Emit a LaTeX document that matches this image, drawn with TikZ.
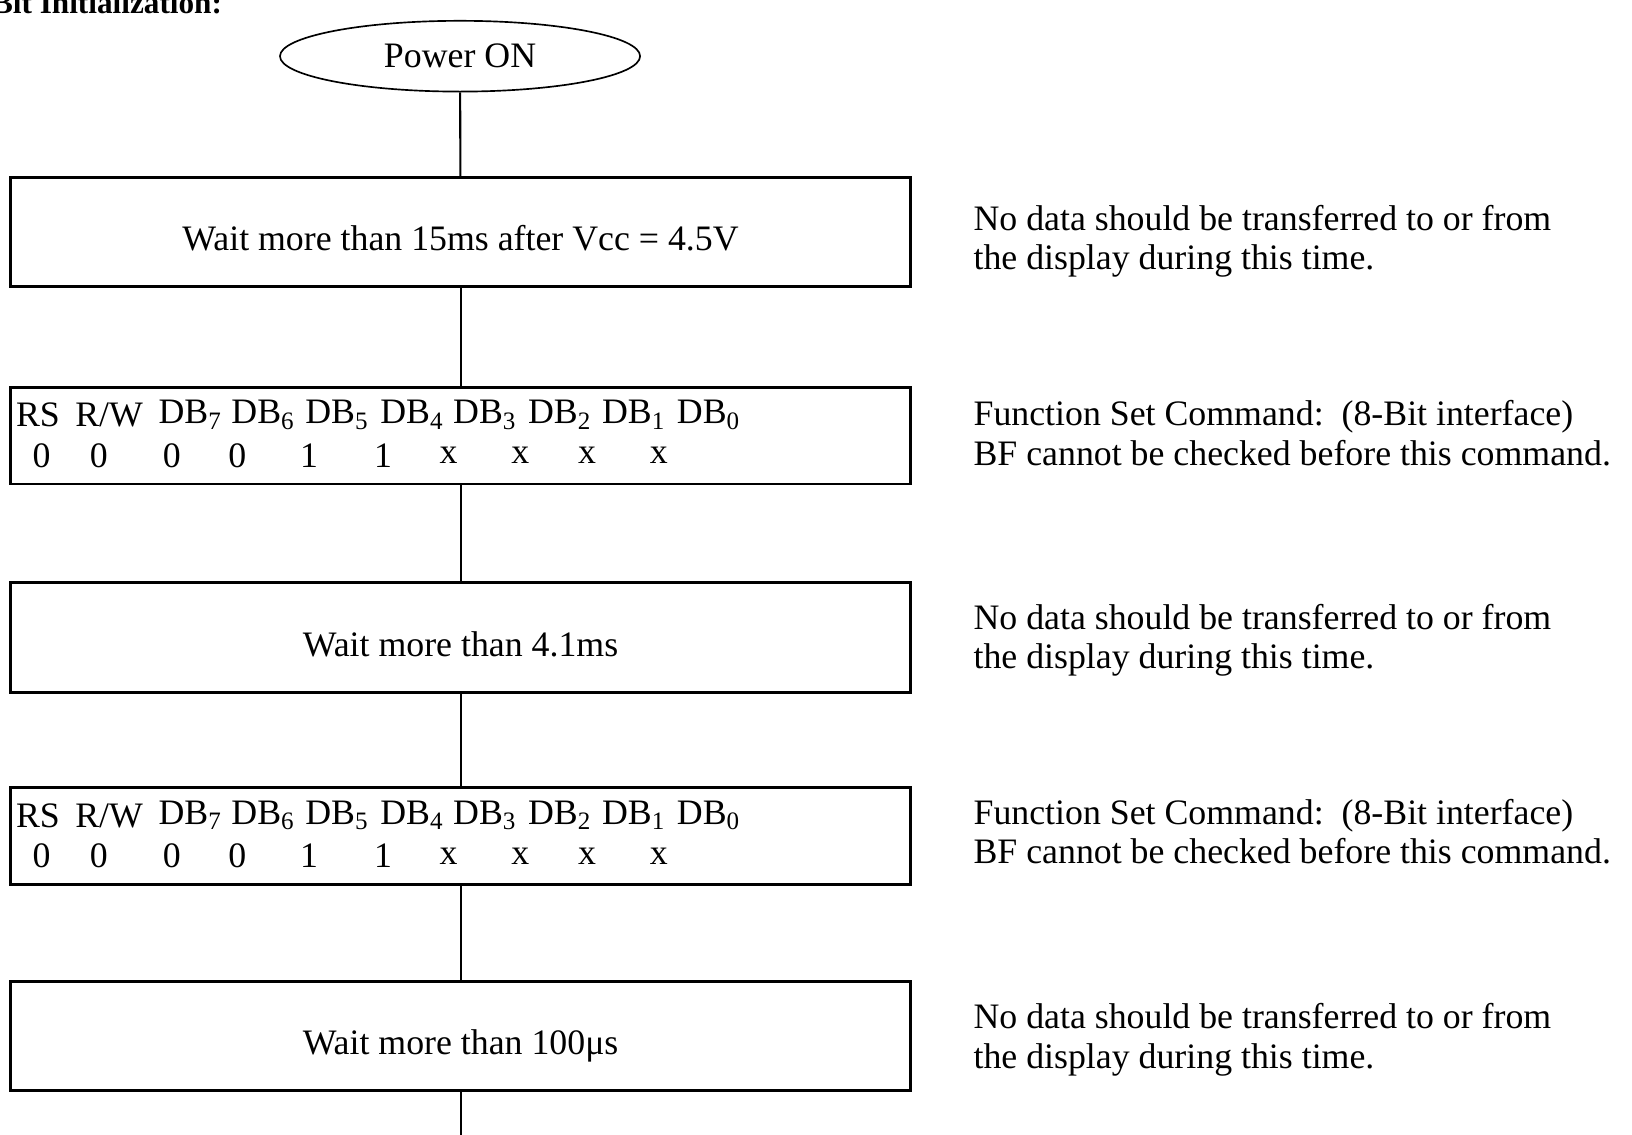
\documentclass[tikz,border=0pt]{standalone}
\usepackage{fontspec}
\setmainfont{Liberation Serif}
\usetikzlibrary{shapes.geometric}

\tikzset{
  stepbox/.style={draw, line width=1.4pt, minimum width=432.5pt, inner sep=0pt},
  waitbox/.style={stepbox, minimum height=52.5pt, text height=18pt, text depth=0pt},
  note/.style={anchor=west, align=left, inner sep=0pt},
  link/.style={line width=1pt},
}

\begin{document}
\begin{tikzpicture}[x=0.5pt, y=-0.5pt, >=latex, font=\fontsize{17.2}{19}\selectfont]
        \useasboundingbox (0,0) rectangle (1568,1090);

        % ==== TITLE (cut at the page edge) ====
        \node[anchor=base west, inner sep=0pt, font=\fontsize{15}{18}\selectfont\bfseries] (title) at (-8,13) {Bit Initialization:};

        % ==== FLOW ====
        \node[ellipse, draw, line width=0.8pt, minimum width=173pt, minimum height=34pt] (pwr) at (442,54) {Power ON};
        \node[waitbox] (w1) at (442.5,223) {Wait more than 15ms after Vcc = 4.5V};
        \node[stepbox, minimum height=46.5pt] (f1) at (442.5,418.5) {};
        \node[waitbox] (w2) at (442.5,612.5) {Wait more than 4.1ms};
        \node[stepbox, minimum height=46.5pt] (f2) at (442.5,803.5) {};
        \node[waitbox] (w3) at (442.5,995.5) {Wait more than 100μs};
        \coordinate (out) at (442.5,1095);

        % ==== REGISTER ROWS ====
        \foreach \b/\yc in {f1/418.5, f2/803.5}{
            \foreach \x/\t [count=\i] in {15/RS, 72/{R/W}, 152/DB\textsubscript{7}, 222/DB\textsubscript{6},
                    293/DB\textsubscript{5}, 365/DB\textsubscript{4}, 435/DB\textsubscript{3},
                    507/DB\textsubscript{2}, 578/DB\textsubscript{1}, 650/DB\textsubscript{0}}{
                \node[anchor=west, inner sep=0pt] (\b-h\i) at (\x,\yc-20) {\t};
            }
            \foreach \x/\v [count=\i] in {40/0, 95/0, 165/0, 228/0, 297/1, 368/1, 431/x, 500/x, 564/x, 633/x}{
                \node[inner sep=0pt] (\b-v\i) at (\x,\yc+19) {\v};
            }
        }

        % ==== CONNECTORS ====
        \draw[link] (pwr) -- (w1);
        \draw[link] (w1) -- (f1);
        \draw[link] (f1) -- (w2);
        \draw[link] (w2) -- (f2);
        \draw[link] (f2) -- (w3);
        \draw[link] (w3) -- (out);

        % === NOTES ===
        \node[note] (n1) at (935,232) {No data should be transferred to or from\\the display during this time.};
        \node[note] (n2) at (935,416) {Function Set Command:\ \ (8-Bit interface)\\BF cannot be checked before this command.};
        \node[note] (n3) at (935,615) {No data should be transferred to or from\\the display during this time.};
        \node[note] (n4) at (935,799) {Function Set Command:\ \ (8-Bit interface)\\BF cannot be checked before this command.};
        \node[note] (n5) at (935,999) {No data should be transferred to or from\\the display during this time.};

    \end{tikzpicture}
\end{document}
